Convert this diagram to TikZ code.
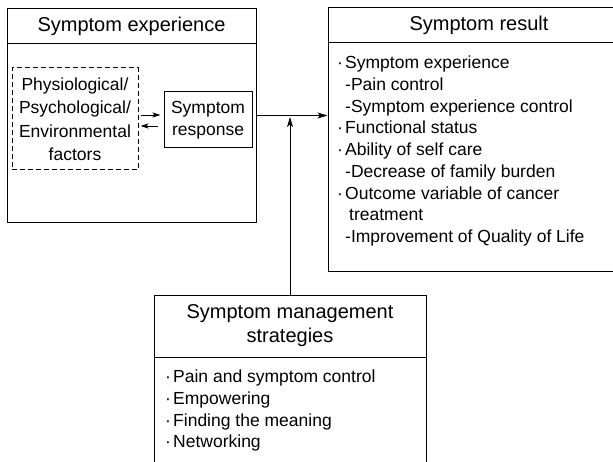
\documentclass[tikz,border=0pt]{standalone}
\usepackage{fontspec}
\setmainfont{Liberation Sans}
\usetikzlibrary{arrows.meta}
\begin{document}
\begin{tikzpicture}[x=1pt,y=-1pt,
  box/.style={draw, line width=1pt, inner sep=0pt},
  body/.style={font=\fontsize{17.5}{21.7}\selectfont, inner sep=0pt},
  ttl/.style={font=\fontsize{20}{24}\selectfont, inner sep=0pt},
  arr/.style={-{Stealth[length=10pt,width=6pt,inset=2.5pt]}, line width=1pt},
  sarr/.style={-{Stealth[length=8pt,width=5pt,inset=2pt]}, line width=0.9pt}]
\useasboundingbox (0,0) rectangle (613,462);
\clip (0,0) rectangle (613,462);
\fill[white] (0,0) rectangle (613,462);

% Symptom experience
\node[box, minimum width=249pt, minimum height=214pt] (exp) at (131.5,115.5) {};
\draw[line width=1pt] ([yshift=-36pt]exp.north west) -- ([yshift=-36pt]exp.north east);
\node[ttl] (expt) at (131.5,26) {Symptom experience};
\node[box, dashed, dash pattern=on 5pt off 3pt, minimum width=126pt, minimum height=102pt,
      align=center, font=\fontsize{17.5}{23.5}\selectfont] (fac) at (75,119)
  {Physiological/\\Psychological/\\Environmental\\factors};
\node[box, body, minimum width=88pt, minimum height=56pt, align=center] (resp) at (208,120)
  {Symptom\\response};
\draw[sarr, shorten <=2pt, shorten >=3pt] ([yshift=5pt]resp.west -| fac.east) -- ([yshift=5pt]resp.west);
\draw[sarr, shorten <=6pt, shorten >=2pt] ([yshift=-6pt]resp.west) -- ([yshift=-6pt]resp.west -| fac.east);

% Symptom result
\node[box, minimum width=302pt, minimum height=264pt] (res) at (479,140) {};
\draw[line width=1pt] ([yshift=-35pt]res.north west) -- ([yshift=-35pt]res.north east);
\node[ttl] (rest) at (479,25) {Symptom result};
\node[body, align=left, anchor=north west] (resl) at (337,56)
  {\makebox[8pt][l]{·}Symptom experience\\
   \hspace*{8pt}-Pain control\\
   \hspace*{8pt}-Symptom experience control\\
   \makebox[8pt][l]{·}Functional status\\
   \makebox[8pt][l]{·}Ability of self care\\
   \hspace*{8pt}-Decrease of family burden\\
   \makebox[8pt][l]{·}Outcome variable of cancer\\
   \hspace*{12pt}treatment\\
   \hspace*{8pt}-Improvement of Quality of Life};

% Symptom management strategies
\node[box, minimum width=272pt, minimum height=200pt] (str) at (290,396) {};
\draw[line width=1pt] ([yshift=-62pt]str.north west) -- ([yshift=-62pt]str.north east);
\node[ttl, align=center] (strt) at (290,326) {Symptom management\\strategies};
\node[body, align=left, anchor=north west] (strl) at (165,370)
  {\makebox[8pt][l]{·}Pain and symptom control\\
   \makebox[8pt][l]{·}Empowering\\
   \makebox[8pt][l]{·}Finding the meaning\\
   \makebox[8pt][l]{·}Networking};

% connectors
\draw[arr] (exp.east) -- (exp.east -| res.west);
\draw[arr, shorten >=1.5pt] (str.north) -- (str.north |- exp.east);
\end{tikzpicture}
\end{document}
